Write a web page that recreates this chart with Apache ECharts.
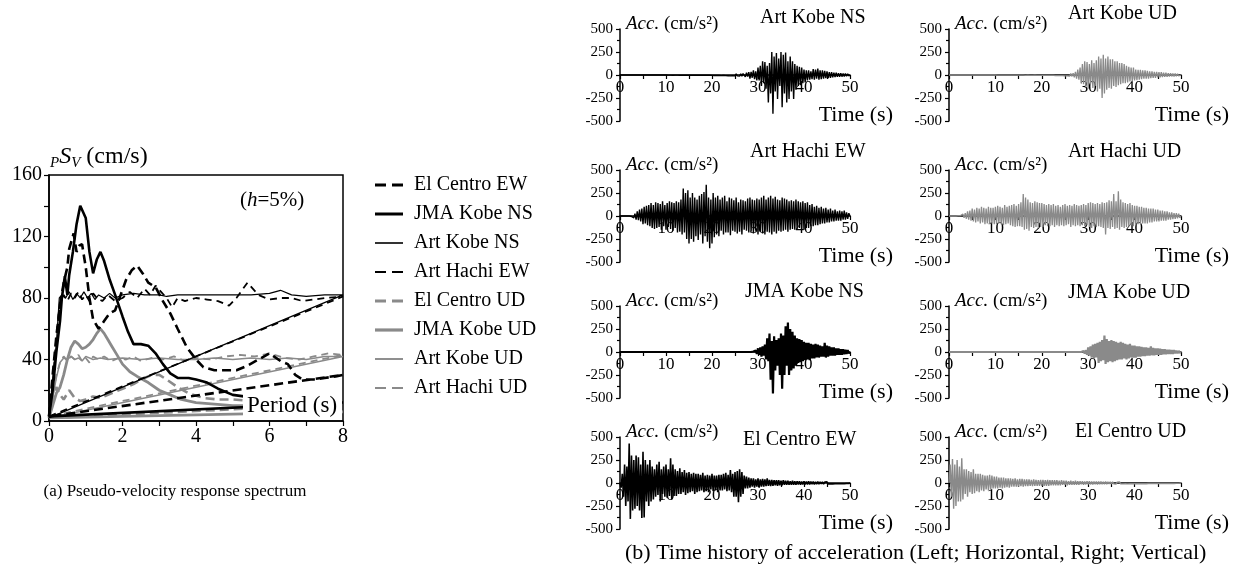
<!DOCTYPE html>
<html><head><meta charset="utf-8">
<script src="https://cdn.jsdelivr.net/npm/echarts/dist/echarts.min.js"></script>
<style>html,body{margin:0;padding:0;background:#fff}#c{width:1238px;height:574px}</style>
</head><body><div id="c"></div>
<script>
// ---------- (a) pseudo-velocity response spectrum: [period (s), pSv (cm/s)] ----------
const spectrumNames = ['El Centro EW','JMA Kobe NS','Art Kobe NS','Art Hachi EW','El Centro UD','JMA Kobe UD','Art Kobe UD','Art Hachi UD'];
const psvElCentroEW = [[0,3],[0.1,30],[0.2,55],[0.3,75],[0.4,90],[0.5,100],[0.55,112],[0.67,122],[0.75,110],[0.82,114],[0.9,115],[1.0,100],[1.1,80],[1.2,66],[1.35,60],[1.5,65],[1.65,70],[1.8,72],[1.95,82],[2.1,92],[2.25,98],[2.4,101],[2.55,96],[2.7,90],[2.9,87],[3.1,78],[3.3,70],[3.5,60],[3.75,48],[4.0,40],[4.2,35],[4.5,33],[4.8,33],[5.1,33],[5.4,36],[5.7,40],[6.0,44],[6.3,39],[6.5,37],[6.7,30],[6.9,27],[7.2,27],[7.5,28],[7.8,29],[8.0,30],[0,3]];
const psvJmaKobeNS = [[0,3],[0.1,20],[0.2,45],[0.3,65],[0.35,80],[0.43,94],[0.5,82],[0.55,95],[0.65,110],[0.75,128],[0.85,140],[0.9,141],[1.0,132],[1.1,110],[1.2,96],[1.3,105],[1.4,110],[1.5,104],[1.65,92],[1.8,82],[2.0,68],[2.15,58],[2.3,50],[2.5,50],[2.7,49],[2.9,44],[3.1,37],[3.3,31],[3.5,28],[3.8,28],[4.0,27],[4.3,25],[4.6,21],[5.0,17],[5.3,16],[6.0,15],[7.0,13],[8.0,12],[0,3]];
const psvArtKobeNS = [[0,2],[0.1,20],[0.2,50],[0.28,80],[0.35,82],[0.45,80],[0.55,84],[0.65,79],[0.75,83],[0.85,80],[0.95,84],[1.05,80],[1.15,83],[1.25,79],[1.35,82],[1.5,80],[1.65,83],[1.8,80],[2.0,82],[2.3,83],[2.6,82],[3.0,82],[3.2,81],[3.5,82],[4.0,82],[4.5,82],[5.0,82],[5.5,82],[6.0,83],[6.3,85],[6.6,82],[7.0,81],[7.5,82],[8.0,82],[0,2]];
const psvArtHachiEW = [[0,3],[0.1,25],[0.2,55],[0.3,78],[0.4,82],[0.5,78],[0.6,83],[0.7,80],[0.8,84],[0.9,79],[1.0,82],[1.1,78],[1.2,83],[1.3,80],[1.45,78],[1.6,82],[1.8,78],[2.0,80],[2.2,84],[2.4,80],[2.6,86],[2.75,82],[2.9,88],[3.05,84],[3.2,80],[3.35,74],[3.5,80],[3.7,78],[4.0,80],[4.3,79],[4.6,78],[4.9,75],[5.1,80],[5.4,90],[5.7,82],[6.0,79],[6.3,80],[6.6,80],[6.9,78],[7.2,79],[7.5,80],[8.0,81],[0,3]];
const psvElCentroUD = [[0,2],[0.1,14],[0.2,22],[0.3,17],[0.4,14],[0.55,20],[0.7,15],[0.85,13],[1.0,14],[1.2,16],[1.4,15],[1.7,18],[2.0,21],[2.3,24],[2.6,28],[2.8,30],[3.0,30],[3.2,27],[3.5,22],[3.8,18],[4.2,15],[4.6,14],[5.0,14],[5.5,13],[6.5,12],[8,11],[0,2]];
const psvJmaKobeUD = [[0,2],[0.1,10],[0.2,18],[0.3,22],[0.4,30],[0.5,40],[0.6,48],[0.7,52],[0.8,50],[0.9,47],[1.0,48],[1.1,50],[1.2,53],[1.3,57],[1.4,60],[1.5,57],[1.6,53],[1.7,49],[1.85,43],[2.0,37],[2.2,32],[2.4,29],[2.7,25],[3.0,20],[3.3,17],[3.6,14],[4.0,12],[4.5,11],[5.0,10],[5.5,10],[6.5,8],[8,6],[0,2]];
const psvArtKobeUD = [[0,2],[0.1,15],[0.2,28],[0.3,38],[0.4,41],[0.5,40],[0.6,42],[0.7,40],[0.8,41],[0.9,39],[1.0,42],[1.2,40],[1.4,41],[1.6,40],[2.0,41],[2.5,40],[3.0,41],[3.5,40],[4.0,40],[4.5,41],[5.0,40],[5.5,41],[6.0,40],[6.5,41],[7.0,40],[7.5,42],[8.0,42],[0,2]];
const psvArtHachiUD = [[0,3],[0.1,16],[0.2,30],[0.3,38],[0.4,42],[0.5,39],[0.6,42],[0.7,40],[0.8,43],[0.9,39],[1.0,41],[1.1,38],[1.2,42],[1.35,40],[1.5,42],[1.7,39],[1.9,41],[2.1,40],[2.3,42],[2.5,39],[2.8,41],[3.1,40],[3.4,42],[3.7,39],[4.0,41],[4.4,40],[4.8,42],[5.2,43],[5.6,42],[6.0,44],[6.4,41],[6.8,40],[7.2,42],[7.6,44],[8.0,43],[0,3]];

// ---------- (b) acceleration time histories (cm/s^2), one value every 0.25 s from 0 to 50 s ----------
const dt = 0.25;
const panelTitles = ['Art Kobe NS','Art Kobe UD','Art Hachi EW','Art Hachi UD','JMA Kobe NS','JMA Kobe UD','El Centro EW','El Centro UD'];
const accArtKobeNS = [
 0,0,0,0,0,0,0,0,0,0,0,0,0,0,0,0,0,0,0,0,0,0,0,0,0,0,0,0,0,0,0,0,0,0,0,0,0,0,0,0,
 0,1,-1,1,-1,1,-2,1,-1,2,-1,1,-2,2,-1,2,-2,1,-2,2,-2,3,-2,2,-3,2,-2,3,-3,2,-3,3,-2,3,-3,3,-3,4,-3,4,
 -4,5,-5,4,-6,5,-5,6,-7,6,-6,8,-7,8,-8,7,-9,10,-8,9,-10,12,-10,11,-12,14,-12,15,
 15,-20,25,-18,30,-40,35,-30,50,-45,40,-60,
 80,-60,100,-120,150,-90,140,-150,100,-300,130,-200,250,-420,200,-180,240,-260,180,-120,
 250,-350,220,-200,245,-300,150,-260,200,-180,150,-260,120,-160,100,-120,90,-110,80,-90,
 60,-80,50,-60,50,-50,40,-45,65,-50,60,-40,70,-50,50,-45,50,-40,45,-35,
 40,-35,30,-30,30,-25,25,-22,25,-20,20,-20,20,-18,15,-15,15,-12,12,-10,0];
const accArtKobeUD = [
 0,0,0,0,0,0,0,0,0,0,0,0,0,0,0,0,0,0,0,0,0,0,0,0,0,0,0,0,0,0,0,0,0,0,0,0,0,0,0,0,
 0,1,-1,1,-1,1,-1,1,-1,2,-1,1,-2,2,-1,2,-2,2,-2,2,-2,2,-2,3,-2,2,-3,2,-2,3,-3,2,-3,3,-2,3,-3,3,-3,3,
 -3,4,-4,4,-5,4,-5,5,-5,6,-5,6,-6,6,-7,6,-7,8,-7,8,-9,10,-9,12,-12,15,-15,20,
 -25,35,-40,60,-50,80,-90,120,-100,150,-130,140,
 -150,120,-100,160,-140,130,-120,160,-180,200,-150,180,-250,220,-200,180,-160,200,-140,170,
 -150,170,-120,150,-130,150,-110,130,-100,130,-90,120,-90,100,-80,90,-70,80,-70,80,
 -60,60,-55,55,-50,55,-45,50,-40,50,-40,45,-40,40,-35,40,-30,35,-30,35,
 -25,30,-25,30,-22,25,-20,25,-20,20,-18,20,-15,15,-15,15,-12,12,-10,10,0];
const accArtHachiEW = [
 0,0,0,0,0,0,0,0,0,5,-5,10,
 -20,25,-40,50,-45,70,-60,80,-90,100,-80,110,-100,120,-110,140,-130,120,-140,150,-130,140,-120,130,-150,160,-110,120,
 -150,140,-120,160,-140,150,-160,140,-130,160,-180,150,-170,180,-200,300,-180,250,-250,280,
 -300,200,-250,250,-280,200,-220,180,-260,220,-200,240,-300,260,-220,340,-280,200,-350,180,
 -300,250,-230,200,-200,220,-220,180,-160,200,-200,220,-180,160,-180,200,-210,190,-160,170,
 -170,200,-190,150,-170,180,-200,170,-150,160,-160,190,-180,200,-170,180,-190,170,-160,190,
 -200,180,-170,200,-190,220,-200,180,-170,200,-180,220,-200,190,-170,210,-190,180,-160,170,
 -170,200,-160,190,-150,180,-170,160,-150,170,-140,160,-150,180,-140,160,-130,150,-140,160,
 -150,140,-130,150,-130,120,-110,130,-110,100,-100,110,-100,90,-90,100,-80,80,-80,90,
 -70,70,-70,80,-60,60,-60,70,-50,50,-50,60,-50,50,-40,60,-40,40,-30,30,0];
const accArtHachiUD = [
 0,0,0,0,0,0,0,0,3,-5,5,-10,
 20,-20,30,-30,50,-40,60,-50,80,-60,70,-70,90,-60,80,-80,100,-70,90,-90,80,-80,100,-90,90,-80,90,-90,
 100,-90,110,-80,100,-90,90,-100,120,-90,100,-80,110,-100,120,-110,130,-120,110,-110,
 130,-110,150,-120,240,-150,200,-140,180,-160,150,-120,140,-130,160,-120,150,-130,140,-120,
 140,-120,130,-100,120,-110,130,-110,120,-100,130,-120,110,-100,120,-110,100,-100,120,-110,
 130,-100,110,-90,120,-120,110,-100,130,-110,120,-100,110,-110,120,-100,130,-110,120,-100,
 140,-120,150,-130,140,-110,130,-120,140,-110,130,-120,150,-130,140,-200,150,-130,170,-140,
 160,-120,240,-140,160,-130,270,-150,180,-120,150,-130,140,-120,130,-110,140,-100,120,-110,
 110,-100,110,-90,100,-90,100,-80,90,-80,90,-80,80,-70,80,-70,80,-60,70,-60,
 70,-60,60,-50,60,-50,50,-50,50,-40,40,-40,40,-35,30,-30,30,-25,25,-20,0];
const accJmaKobeNS = [
 0,0,0,0,0,0,0,0,0,0,0,0,0,0,0,0,0,0,0,0,0,0,0,0,0,0,0,0,0,0,0,0,0,0,0,0,0,0,0,0,
 0,0,0,0,0,0,0,0,0,0,0,0,0,0,0,0,0,0,0,0,0,0,0,0,0,0,0,0,0,0,0,0,0,0,0,0,0,0,0,0,
 0,0,0,0,0,0,0,0,0,0,0,0,0,0,0,0,0,0,0,0,0,0,0,0,0,0,0,0,0,0,0,0,0,0,0,0,
 5,-10,15,-20,
 40,-30,50,-50,60,-40,80,-80,150,-100,200,-300,120,-450,170,-200,130,-150,150,-250,
 200,-400,180,-250,280,-150,320,-250,250,-200,220,-180,180,-150,150,-120,140,-110,130,-100,
 110,-90,100,-80,100,-90,90,-70,80,-70,90,-60,80,-60,70,-50,60,-50,100,-60,
 70,-50,60,-40,50,-40,50,-40,40,-30,40,-30,30,-30,30,-25,25,-20,20,-15,0];
const accJmaKobeUD = [
 0,0,0,0,0,0,0,0,0,0,0,0,0,0,0,0,0,0,0,0,0,0,0,0,0,0,0,0,0,0,0,0,0,0,0,0,0,0,0,0,
 0,0,0,0,0,0,0,0,0,0,0,0,0,0,0,0,0,0,0,0,0,0,0,0,0,0,0,0,0,0,0,0,0,0,0,0,0,0,0,0,
 0,0,0,0,0,0,0,0,0,0,0,0,0,0,0,0,0,0,0,0,0,0,0,0,0,0,0,0,0,0,0,0,0,0,0,0,
 10,-15,20,-30,
 50,-40,60,-60,80,-70,90,-60,100,-120,110,-100,130,-90,180,-130,140,-110,120,-100,
 130,-110,120,-100,110,-90,100,-80,110,-80,100,-70,90,-80,80,-70,90,-60,70,-60,
 70,-60,60,-50,60,-50,55,-45,50,-45,50,-40,45,-40,60,-35,45,-35,40,-30,
 40,-30,35,-30,30,-25,30,-25,25,-20,25,-20,20,-20,20,-15,15,-15,12,-10,0];
const accElCentroEW = [
 0,-50,100,-150,200,-250,180,-200,430,-390,300,-300,250,-280,300,-250,280,-300,200,-380,
 340,-375,250,-200,200,-250,250,-200,180,-180,150,-150,200,-130,230,-200,150,-120,180,-150,
 200,-160,150,-140,270,-180,200,-140,150,-140,130,-120,160,-120,120,-100,140,-130,110,-110,
 120,-100,100,-90,110,-120,100,-100,100,-90,90,-80,110,-100,80,-90,90,-100,80,-70,
 100,-90,80,-80,80,-100,90,-80,90,-80,100,-70,110,-90,90,-80,140,-100,100,-150,
 120,-150,130,-210,150,-150,120,-120,80,-60,70,-60,60,-50,50,-40,50,-50,40,-40,
 50,-50,40,-40,45,-40,40,-35,50,-30,35,-35,35,-30,30,-25,30,-30,30,-25,
 25,-25,30,-20,25,-20,25,-20,20,-20,25,-20,20,-18,20,-15,20,-20,15,-15,
 20,-15,15,-15,20,-15,15,-12,15,-15,12,-12,15,-12,12,-10,12,-12,10,-10,
 12,-10,10,-10,10,-10,10,-8,10,-8,8,-8,10,-8,8,-8,8,-6,6,-6,0];
const accElCentroUD = [
 0,200,-150,260,-280,200,-250,250,-200,180,-200,270,-180,150,-120,150,-150,130,-100,120,
 -120,150,-110,100,-90,100,-100,100,-80,90,-90,80,-70,80,-80,90,-70,80,-60,70,
 -60,70,-60,60,-50,60,-60,60,-50,50,-45,50,-50,50,-40,45,-40,50,-40,40,
 -40,45,-35,45,-40,40,-35,40,-35,40,-30,35,-35,40,-30,35,-30,30,-30,35,
 -30,35,-30,30,-30,35,-30,30,-25,30,-25,30,-25,30,-25,25,-25,30,-20,25,
 -20,25,-25,20,-20,25,-20,20,-20,25,-20,20,-18,20,-15,20,-18,15,-15,20,
 -15,20,-15,15,-15,15,-12,15,-15,15,-12,15,-12,12,-12,15,-12,12,-10,12,
 -10,12,-10,10,-12,10,-10,12,-10,10,-10,10,-8,10,-10,10,-8,10,-8,8,
 -8,10,-8,8,-8,8,-8,10,-8,8,-8,8,-6,8,-6,8,-6,6,-6,8,
 -6,6,-6,6,-5,6,-6,6,-5,5,-5,6,-5,5,-5,5,-4,5,-4,4,0];
const accTicks = [-500,-250,0,250,500];

// ---------- styling / layout ----------
const BLACK = '#000', GRAY = '#8a8a8a';
const FONT = '"Liberation Serif","Times New Roman",serif';
const spectra = [
  {d: psvElCentroEW, c: BLACK, w: 2.6, t: [9,5]},
  {d: psvJmaKobeNS, c: BLACK, w: 2.6, t: 'solid'},
  {d: psvArtKobeNS, c: BLACK, w: 1.2, t: 'solid'},
  {d: psvArtHachiEW, c: BLACK, w: 1.8, t: [7,5]},
  {d: psvElCentroUD, c: GRAY, w: 2.6, t: [9,5]},
  {d: psvJmaKobeUD, c: GRAY, w: 2.8, t: 'solid'},
  {d: psvArtKobeUD, c: GRAY, w: 1.5, t: 'solid'},
  {d: psvArtHachiUD, c: GRAY, w: 1.8, t: [7,5]}
];
const panelData = [accArtKobeNS, accArtKobeUD, accArtHachiEW, accArtHachiUD, accJmaKobeNS, accJmaKobeUD, accElCentroEW, accElCentroUD];
const panelWidth = [1.4, 1.3, 1.4, 1.3, 2.2, 2.2, 1.6, 1.4];
const rowZero = [75, 216, 352, 483];
const colLeft = [620, 949], colWidth = [230, 232];
const half = 46;
const titlePos = [[760,18],[1068,14],[750,152],[1068,152],[745,292],[1068,293],[743,440],[1075,432]];

const grids = [], xAxes = [], yAxes = [], series = [], graphics = [];
const axisLineStyle = {color: BLACK, width: 1.5};

// left chart
grids.push({left: 49, top: 175, width: 294, height: 246, show: true, borderColor: BLACK, borderWidth: 1.5, backgroundColor: 'rgba(0,0,0,0)', outerBoundsMode: 'none'});
xAxes.push({gridIndex: 0, type: 'value', min: 0, max: 8, interval: 2,
  axisLine: {lineStyle: axisLineStyle}, axisTick: {length: 5, lineStyle: {color: BLACK, width: 1.2}},
  minorTick: {show: true, splitNumber: 2, length: 5, lineStyle: {color: BLACK, width: 1.2}},
  splitLine: {show: false}, axisLabel: {fontFamily: FONT, fontSize: 20, color: BLACK, margin: 6}});
yAxes.push({gridIndex: 0, type: 'value', min: 0, max: 160, interval: 40,
  axisLine: {show: true, lineStyle: axisLineStyle}, axisTick: {show: true, length: 5, lineStyle: {color: BLACK, width: 1.2}},
  minorTick: {show: true, splitNumber: 2, length: 5, lineStyle: {color: BLACK, width: 1.2}},
  splitLine: {show: false}, axisLabel: {fontFamily: FONT, fontSize: 20, color: BLACK, margin: 7}});
spectra.forEach((s, i) => {
  series.push({name: spectrumNames[i], type: 'line', xAxisIndex: 0, yAxisIndex: 0, data: s.d,
    symbol: 'none', showSymbol: false, smooth: false, clip: true, z: 2 + (8 - i),
    color: s.c, lineStyle: {color: s.c, width: s.w, type: s.t}});
  // legend sample (plain graphics)
  const ly = 185 + 29 * i;
  graphics.push({type: 'line', z: 100, shape: {x1: 375, y1: ly, x2: 403, y2: ly},
    style: {stroke: s.c, lineWidth: s.w + 0.4, lineDash: s.t === 'solid' ? null : [11, 6]}});
  graphics.push({type: 'text', z: 100, x: 414, y: ly,
    style: {text: spectrumNames[i], font: '20px ' + FONT, fill: BLACK, textVerticalAlign: 'middle'}});
});

// time-history panels
panelData.forEach((vals, p) => {
  const row = Math.floor(p / 2), col = p % 2, gi = p + 1;
  const zero = rowZero[row];
  const color = col === 0 ? BLACK : GRAY;
  grids.push({left: colLeft[col], top: zero - half, width: colWidth[col], height: half * 2, outerBoundsMode: 'none'});
  xAxes.push({gridIndex: gi, type: 'value', min: 0, max: 50, interval: 10, offset: -half,
    axisLine: {onZero: false, lineStyle: axisLineStyle},
    axisTick: {length: 4, lineStyle: {color: BLACK, width: 1.2}},
    minorTick: {show: true, splitNumber: 2, length: 4, lineStyle: {color: BLACK, width: 1.2}},
    splitLine: {show: false}, axisLabel: {fontFamily: FONT, fontSize: 17, color: BLACK, margin: 4}});
  yAxes.push({gridIndex: gi, type: 'value', min: accTicks[0], max: accTicks[accTicks.length - 1], interval: 250,
    axisLine: {show: true, lineStyle: axisLineStyle},
    axisTick: {show: true, length: 4, lineStyle: {color: BLACK, width: 1.2}},
    minorTick: {show: true, splitNumber: 2, length: 3, lineStyle: {color: BLACK, width: 1.2}},
    splitLine: {show: false}, axisLabel: {fontFamily: FONT, fontSize: 15, color: BLACK, margin: 7}});
  series.push({type: 'line', xAxisIndex: gi, yAxisIndex: gi, data: vals.map((v, k) => [k * dt, v]),
    symbol: 'none', showSymbol: false, clip: true, z: 3,
    lineStyle: {color: color, width: panelWidth[p]}});
  graphics.push({type: 'text', x: colLeft[col] + 6, y: zero - 51, z: 100,
    style: {text: '{i|Acc.}{n| (cm/s²)}', textVerticalAlign: 'middle', fill: BLACK,
      rich: {i: {fontFamily: FONT, fontSize: 19, fontStyle: 'italic'}, n: {fontFamily: FONT, fontSize: 19}}}});
  graphics.push({type: 'text', x: titlePos[p][0], y: titlePos[p][1], z: 100,
    style: {text: panelTitles[p], font: '20px ' + FONT, fill: BLACK, textVerticalAlign: 'middle'}});
  graphics.push({type: 'text', x: col === 0 ? 893 : 1229, y: zero + 40, z: 100,
    style: {text: 'Time (s)', font: '22px ' + FONT, fill: BLACK, textAlign: 'right', textVerticalAlign: 'middle'}});
});

// left chart annotations
graphics.push({type: 'text', x: 50, y: 157, z: 100,
  style: {text: '{p|P}{s|S}{v|V}{n| (cm/s)}', fill: BLACK, textVerticalAlign: 'middle',
    rich: {p: {fontFamily: FONT, fontStyle: 'italic', fontSize: 15, verticalAlign: 'bottom', lineHeight: 28},
           s: {fontFamily: FONT, fontStyle: 'italic', fontSize: 24, lineHeight: 28},
           v: {fontFamily: FONT, fontStyle: 'italic', fontSize: 15, verticalAlign: 'bottom', lineHeight: 28},
           n: {fontFamily: FONT, fontSize: 24, lineHeight: 28}}}});
graphics.push({type: 'text', x: 240, y: 200, z: 100,
  style: {text: '{n|(}{i|h}{n|=5%)}', fill: BLACK, textVerticalAlign: 'middle',
    rich: {n: {fontFamily: FONT, fontSize: 21}, i: {fontFamily: FONT, fontSize: 21, fontStyle: 'italic'}}}});
graphics.push({type: 'rect', shape: {x: 243, y: 391, width: 99, height: 28}, style: {fill: '#fff'}, z: 90});
graphics.push({type: 'text', x: 247, y: 406, z: 100,
  style: {text: 'Period (s)', font: '23px ' + FONT, fill: BLACK, textVerticalAlign: 'middle'}});
graphics.push({type: 'text', x: 175, y: 492, z: 100,
  style: {text: '(a) Pseudo-velocity response spectrum', font: '17px ' + FONT, fill: BLACK, textAlign: 'center', textVerticalAlign: 'middle'}});
graphics.push({type: 'text', x: 625, y: 553, z: 100,
  style: {text: '(b) Time history of acceleration (Left; Horizontal, Right; Vertical)', font: '22px ' + FONT, fill: BLACK, textAlign: 'left', textVerticalAlign: 'middle'}});

const chart = echarts.init(document.getElementById('c'), null, {renderer: 'canvas'});
chart.setOption({
  animation: false,
  backgroundColor: '#fff',
  grid: grids, xAxis: xAxes, yAxis: yAxes, series: series,
  graphic: graphics
});
</script></body></html>
